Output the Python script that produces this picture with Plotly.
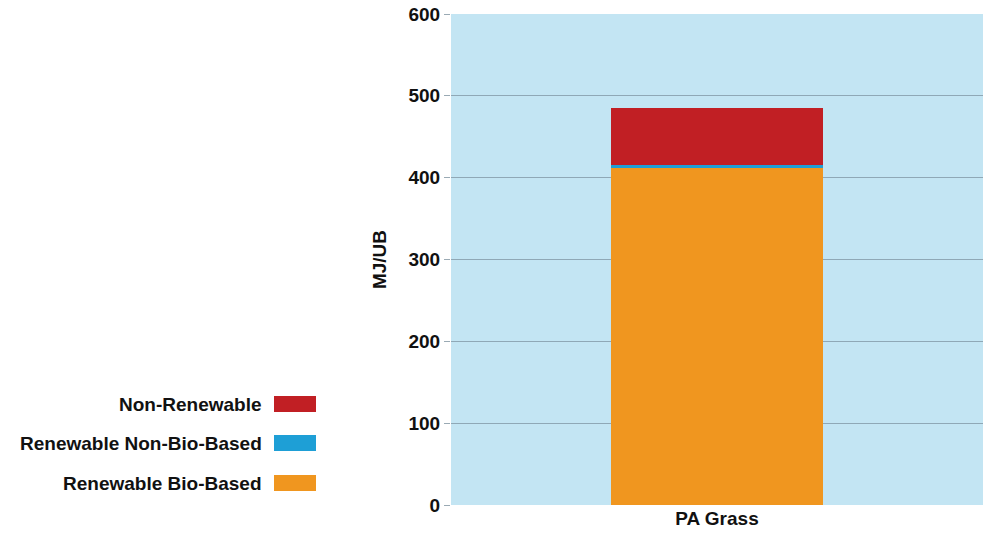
import plotly.graph_objects as go

categories = ["PA Grass"]
series_names = ["Renewable Bio-Based", "Renewable Non-Bio-Based", "Non-Renewable"]
bio_based = [413]
non_bio_based = [2]
non_renewable = [70]
colors = ["#f0961f", "#1e9fd6", "#c11f24"]
y_ticks = [0, 100, 200, 300, 400, 500, 600]

W, H = 985, 536
L, R, T, B = 451, 2, 14, 31
pw, ph = W - L - R, H - T - B
FS = 19
BOLD = dict(family="Liberation Sans", size=FS, color="#111111", weight="bold")

fig = go.Figure()
for name, vals, col in zip(series_names, [bio_based, non_bio_based, non_renewable], colors):
    fig.add_trace(go.Bar(x=categories, y=vals, name=name, marker=dict(color=col, line=dict(width=0)),
                         width=0.4, showlegend=False))

def px_x(x):
    return (x - L) / pw

def px_y(y):
    return (H - B - y) / ph

# custom legend (text left of swatch)
legend_items = [("Non-Renewable", colors[2], 404), ("Renewable Non-Bio-Based", colors[1], 443),
                ("Renewable Bio-Based", colors[0], 483)]
for text, col, yc in legend_items:
    fig.add_annotation(x=px_x(264), y=px_y(yc), xref="paper", yref="paper", text=text,
                       showarrow=False, xanchor="right", yanchor="middle", font=BOLD)
    fig.add_shape(type="rect", xref="paper", yref="paper", x0=px_x(274), x1=px_x(316),
                  y0=px_y(yc + 8), y1=px_y(yc - 8), fillcolor=col, line=dict(width=0))

fig.update_layout(
    barmode="stack",
    width=W, height=H,
    margin=dict(l=L, r=R, t=T, b=B, pad=0),
    paper_bgcolor="white",
    plot_bgcolor="#c3e5f3",
    font=BOLD,
)
fig.update_xaxes(showgrid=False, tickfont=BOLD, ticks="", showline=False, zeroline=False)
fig.update_yaxes(range=[0, 600], tickvals=y_ticks, showgrid=True, gridcolor="#8fa8b6", gridwidth=1,
                 ticks="outside", ticklen=6, tickcolor="#9aaab4", zeroline=False,
                 title=dict(text="MJ/UB", standoff=16, font=BOLD), tickfont=BOLD,
                 showline=False)

fig.write_html("out.html")
